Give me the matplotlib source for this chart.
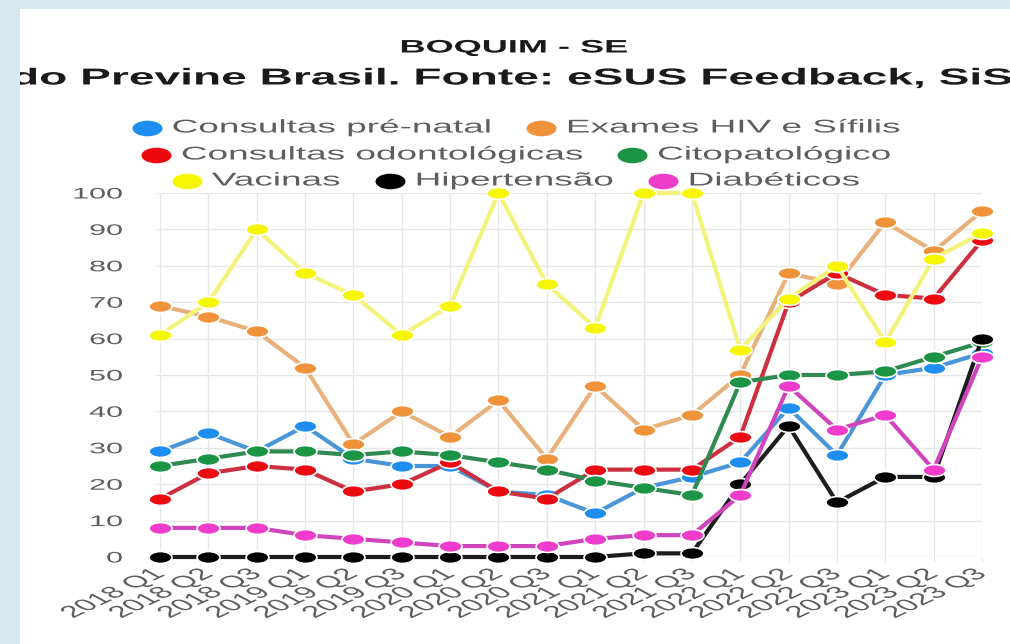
import numpy as np
import matplotlib
matplotlib.use('Agg')
import matplotlib.pyplot as plt
from matplotlib.patheffects import AbstractPathEffect
from matplotlib.transforms import Affine2D, Bbox
from matplotlib.path import Path
from matplotlib.patches import Rectangle

plt.rcParams['font.family'] = ['Liberation Sans', 'DejaVu Sans']

W, H = 1010, 644
S = 2.0  # the screenshot is stretched sideways, text too
BG = '#d5e9ee'

quarters = ['2018 Q1', '2018 Q2', '2018 Q3', '2019 Q1', '2019 Q2', '2019 Q3',
            '2020 Q1', '2020 Q2', '2020 Q3', '2021 Q1', '2021 Q2', '2021 Q3',
            '2022 Q1', '2022 Q2', '2022 Q3', '2023 Q1', '2023 Q2', '2023 Q3']

names = ['Consultas pré-natal', 'Exames HIV e Sífilis', 'Consultas odontológicas',
         'Citopatológico', 'Vacinas', 'Hipertensão', 'Diabéticos']

prenatal = [29, 34, 29, 36, 27, 25, 25, 18, 17, 12, 19, 22, 26, 41, 28, 50, 52, 56]
hiv = [69, 66, 62, 52, 31, 40, 33, 43, 27, 47, 35, 39, 50, 78, 75, 92, 84, 95]
odonto = [16, 23, 25, 24, 18, 20, 26, 18, 16, 24, 24, 24, 33, 70, 78, 72, 71, 87]
cito = [25, 27, 29, 29, 28, 29, 28, 26, 24, 21, 19, 17, 48, 50, 50, 51, 55, 59]
vacinas = [61, 70, 90, 78, 72, 61, 69, 100, 75, 63, 100, 100, 57, 71, 80, 59, 82, 89]
hipertensao = [0, 0, 0, 0, 0, 0, 0, 0, 0, 0, 1, 1, 20, 36, 15, 22, 22, 60]
diabeticos = [8, 8, 8, 6, 5, 4, 3, 3, 3, 5, 6, 6, 17, 47, 35, 39, 24, 55]

series = [prenatal, hiv, odonto, cito, vacinas, hipertensao, diabeticos]
point_colors = ['#1e8ff0', '#f0923a', '#ec0a10', '#1b9545', '#f6f600', '#000000', '#f03ccc']
line_colors = ['#4a95d8', '#e8b07a', '#cc3040', '#2f8a52', '#f3f37c', '#1c1c1c', '#d044bc']


class Stretch(AbstractPathEffect):
    # scale the drawn text sideways around its anchor point
    def __init__(self, text, sx=S):
        super().__init__()
        self.text = text
        self.sx = sx

    def draw_path(self, renderer, gc, tpath, affine, rgbFace=None):
        x0, y0 = self.text._get_xy_display()
        st = Affine2D().translate(-x0, -y0).scale(self.sx, 1).translate(x0, y0)
        renderer.draw_path(gc, tpath, affine + st, rgbFace)


def stretch(t, sx=S):
    t.set_path_effects([Stretch(t, sx)])
    return t


# flat ellipse marker (round points squashed by the screenshot)
circ = Path.unit_circle()
ell = Path(circ.vertices * [1, 0.52], circ.codes)

fig = plt.figure(figsize=(W / 100, H / 100), dpi=100)
fig.patch.set_facecolor(BG)

bg = fig.add_axes([0, 0, 1, 1], zorder=0)
bg.set_xlim(0, W)
bg.set_ylim(H, 0)
bg.axis('off')
panel = Rectangle((20, 9), W - 20, H - 9, facecolor='white', edgecolor='none')
bg.add_patch(panel)
# the screenshot cuts the subtitle at the panel's left edge
bg.add_patch(Rectangle((0, 0), 20, H, facecolor=BG, edgecolor='none', zorder=5))

stretch(bg.text(514, 48, 'BOQUIM - SE', ha='center', va='center',
                fontsize=13, weight='bold', color='#1a1a1a'))
sub = bg.text(11, 78, 'do Previne Brasil. Fonte: eSUS Feedback, SiS', ha='left',
              va='center', fontsize=16.6, weight='bold', color='#1a1a1a')
sub.set_clip_box(Bbox([[20, 0], [W, H - 9]]))
stretch(sub)

# legend, three centred rows like the chart library draws it
rows = [[0, 1], [2, 3], [4, 5, 6]]
row_y = [128, 155, 181]
mark_w, gap, item_gap, centre = 30, 10, 34, 516
renderer = fig.canvas.get_renderer()
for idx, yy in zip(rows, row_y):
    texts = []
    widths = []
    for i in idx:
        t = bg.text(0, yy, names[i], ha='left', va='center', fontsize=13.3, color='#5e5e5e')
        texts.append(t)
        widths.append(t.get_window_extent(renderer).width * S)
    total = sum(mark_w + gap + w for w in widths) + item_gap * (len(idx) - 1)
    xx = centre - total / 2
    for i, t, w in zip(idx, texts, widths):
        bg.plot([xx + mark_w / 2], [yy], marker=ell, ms=mark_w / 1.389,
                color=point_colors[i], mec='none', ls='none')
        t.set_x(xx + mark_w + gap)
        stretch(t)
        xx += mark_w + gap + w + item_gap

ax = fig.add_axes([160 / W, (H - 557) / H, (982 - 160) / W, (557 - 193) / H], zorder=1)
ax.set_facecolor('none')
x = np.arange(len(quarters))
for vals, mc, lc in zip(series, point_colors, line_colors):
    ax.plot(x, vals, color=lc, lw=3.0, marker=ell, ms=16.5, mfc=mc, mec='white',
            mew=1.2, clip_on=False)

ax.set_xlim(0, len(quarters) - 1)
ax.set_ylim(0, 100)
ax.set_yticks(range(0, 101, 10))
ax.set_xticks(x, quarters, rotation=43, ha='right', va='center', rotation_mode='anchor')
ax.grid(True, color='#e6e6e6', lw=1)
ax.set_axisbelow(True)
for sp in ax.spines.values():
    sp.set_visible(False)
ax.tick_params(axis='both', length=3.6, color='#e6e6e6', labelcolor='#5e5e5e', labelsize=11)
ax.tick_params(axis='y', pad=23)
ax.tick_params(axis='x', pad=7, labelsize=12)
for t in ax.get_xticklabels() + ax.get_yticklabels():
    stretch(t)

fig.savefig('out.png', dpi=100, facecolor=fig.get_facecolor())
